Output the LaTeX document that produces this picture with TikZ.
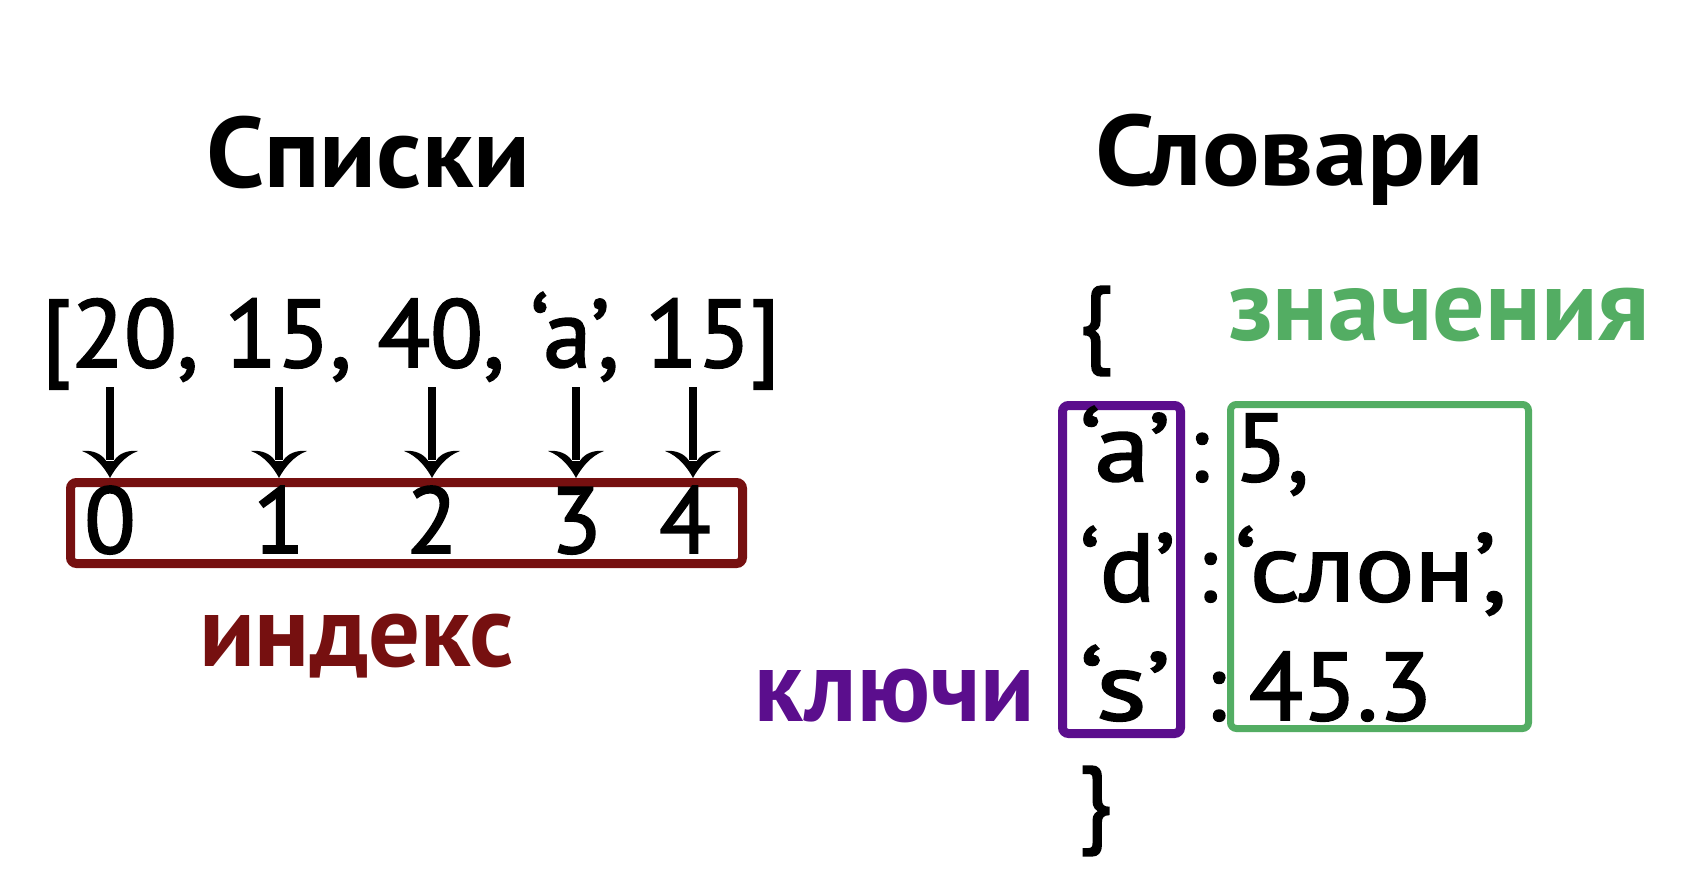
\documentclass[tikz,border=0pt]{standalone}
\usepackage{fontspec}
\setmainfont{PT Sans}
\newfontfamily\regf{PT Sans}[FakeBold=2]
\usepackage{graphicx}
\usetikzlibrary{arrows.meta}
\definecolor{idxred}{HTML}{761010}
\definecolor{keypurple}{HTML}{5B0E8D}
\definecolor{valgreen}{HTML}{53AD63}
\newcommand\fitw[2]{\resizebox{#1}{\height}{#2}}
\pgfdeclarearrow{
  name = Wing,
  setup code = {
    \pgfarrowssettipend{0pt}
    \pgfarrowssetlineend{-9pt}
    \pgfarrowssetbackend{-13.5pt}
    \pgfarrowshullpoint{0pt}{0pt}
    \pgfarrowsupperhullpoint{-13.5pt}{14pt}
  },
  drawing code = {
    \pgfpathmoveto{\pgfqpoint{0pt}{0pt}}
    \pgfpathcurveto{\pgfqpoint{-4.5pt}{2.4pt}}{\pgfqpoint{-11pt}{7pt}}{\pgfqpoint{-13.5pt}{14pt}}
    \pgfpathcurveto{\pgfqpoint{-14pt}{9pt}}{\pgfqpoint{-12.5pt}{4.5pt}}{\pgfqpoint{-8.5pt}{1.9pt}}
    \pgfpathlineto{\pgfqpoint{-8.5pt}{-1.9pt}}
    \pgfpathcurveto{\pgfqpoint{-12.5pt}{-4.5pt}}{\pgfqpoint{-14pt}{-9pt}}{\pgfqpoint{-13.5pt}{-14pt}}
    \pgfpathcurveto{\pgfqpoint{-11pt}{-7pt}}{\pgfqpoint{-4.5pt}{-2.4pt}}{\pgfqpoint{0pt}{0pt}}
    \pgfpathclose
    \pgfusepathqfill
  }
}
\tikzset{
  txt/.style={inner sep=0pt, outer sep=0pt, anchor=base west, font=\regf\fontsize{48pt}{50pt}\selectfont},
  ttl/.style={txt, font=\fontsize{50pt}{52pt}\selectfont\bfseries},
  lbl/.style={txt, font=\fontsize{51pt}{53pt}\selectfont\bfseries},
  digit/.style={inner sep=0pt, outer sep=0pt, anchor=base, font=\regf\fontsize{47pt}{49pt}\selectfont},
  colon/.style={digit},
  brace/.style={inner sep=0pt, outer sep=0pt, anchor=center, font=\regf\fontsize{48pt}{50pt}\selectfont},
  arr/.style={line width=3.8pt, -{Wing}},
  frame/.style={rounded corners=3pt, inner sep=0pt},
}
\begin{document}
\begin{tikzpicture}[x=0.5pt, y=-0.5pt]
\fill[white] (0,0) rectangle (1682,873);
\useasboundingbox (0,0) rectangle (1682,873);

% titles
\node[ttl] (t1) at (206,187) {\fitw{162pt}{Списки}};
\node[ttl] (t2) at (1095,185) {\fitw{194.5pt}{Словари}};

% list
\node[txt] (lst) at (42,367) {\fitw{369pt}{[20, 15, 40, ‘a’, 15]}};

% index box
\node[frame, draw=idxred, line width=4.5pt, minimum width=336pt, minimum height=40.5pt] (box) at (406.5,523) {};
\node[digit] (i0) at (110,553) {0};
\node[digit] (i1) at (279,553) {1};
\node[digit] (i2) at (432,553) {2};
\node[digit] (i3) at (576,553) {3};
\node[digit] (i4) at (685,553) {4};
\node[lbl, text=idxred] (idx) at (199,666) {\fitw{157.5pt}{индекс}};

% arrows
\coordinate (s0) at (110,387);
\coordinate (s1) at (279,387);
\coordinate (s2) at (432,387);
\coordinate (s3) at (576,387);
\coordinate (s4) at (693,387);
\draw[arr] (s0) -- (s0 |- box.north);
\draw[arr] (s1) -- (s1 |- box.north);
\draw[arr] (s2) -- (s2 |- box.north);
\draw[arr] (s3) -- (s3 |- box.north);
\draw[arr] (s4) -- (s4 |- box.north);

% dictionary
\node[brace] (ob) at (1095.5,331) {\{};
\node[brace] (cb) at (1095,811) {\}};
\node[lbl, text=valgreen] (zn) at (1228,340) {\fitw{211pt}{значения}};
\node[lbl, text=keypurple] (kl) at (754,721) {\fitw{140.5pt}{ключи}};

\node[frame, draw=keypurple, line width=4.5pt, minimum width=59pt, minimum height=164pt] (kbox) at (1121.5,569.5) {};
\node[frame, draw=valgreen, line width=3.5pt, minimum width=149pt, minimum height=162pt] (vbox) at (1379.5,566.5) {};

\node[txt] (k1) at (1080,481) {\fitw{45pt}{‘a’}};
\node[txt] (k2) at (1080,601) {\fitw{47.5pt}{‘d’}};
\node[txt] (k3) at (1080,720) {\fitw{45pt}{‘s’}};
\node[colon] (c1) at (1198.5,481) {:};
\node[colon] (c2) at (1207,601) {:};
\node[colon] (c3) at (1215.5,720) {:};
\node[txt] (v1) at (1235,481) {\fitw{37pt}{5,}};
\node[txt] (v2) at (1235,601) {\fitw{136pt}{‘слон’,}};
\node[txt] (v3) at (1249,720) {\fitw{91.5pt}{45.3}};
\end{tikzpicture}
\end{document}
